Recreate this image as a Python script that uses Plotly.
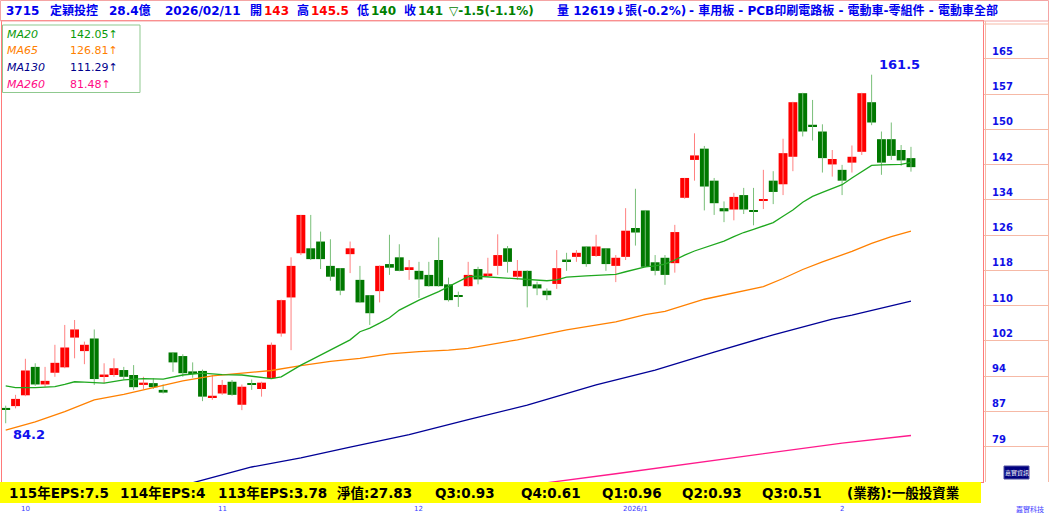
import plotly.graph_objects as go
import pandas as pd

# ---------------- data ----------------
holidays = ["2025-09-29", "2025-10-06", "2025-10-10", "2025-10-24", "2025-12-25", "2026-01-01"]
dates = [d for d in pd.bdate_range("2025-09-26", "2026-02-11") if d.strftime("%Y-%m-%d") not in holidays]

opens = [87.5, 88.0, 90.4, 96.7, 92.8, 95.4, 96.6, 103.2, 100.2, 103.0,
         94.7, 94.9, 96.0, 94.9, 92.7, 93.1, 91.6, 99.9, 99.1, 95.6,
         95.8, 90.0, 90.8, 93.4, 88.3, 93.0, 91.8, 94.2, 104.1, 112.1,
         121.9, 123.0, 124.5, 119.1, 118.6, 121.7, 116.0, 112.6, 113.5, 119.5,
         121.0, 118.5, 118.0, 117.1, 120.4, 115.0, 112.5, 114.6, 118.4, 117.1,
         119.1, 123.0, 116.7, 118.0, 115.0, 113.6, 115.1, 120.4, 121.1, 123.4,
         121.3, 123.0, 119.1, 121.1, 127.5, 131.4, 119.9, 120.9, 119.7, 134.2,
         142.6, 145.1, 138.0, 131.9, 131.6, 134.8, 131.4, 133.6, 138.0, 137.2,
         143.3, 157.4, 150.3, 148.9, 141.6, 140.4, 142.0, 144.4, 155.4, 147.2,
         147.2, 144.8, 143.0]
highs = [88.1, 90.5, 98.5, 97.5, 96.7, 101.6, 106.0, 107.1, 102.3, 105.0,
         97.5, 98.6, 96.7, 97.1, 94.5, 94.2, 92.8, 99.9, 99.5, 97.7,
         96.1, 94.9, 93.8, 93.8, 92.8, 93.9, 93.4, 102.1, 111.6, 121.0,
         130.4, 130.4, 126.7, 125.0, 118.6, 124.5, 119.1, 112.6, 119.2, 126.0,
         123.9, 120.4, 120.0, 120.0, 125.4, 116.5, 113.4, 120.0, 118.9, 120.9,
         126.1, 123.5, 120.4, 118.1, 115.6, 114.1, 122.6, 122.0, 122.6, 123.4,
         126.0, 123.0, 121.5, 131.9, 136.2, 131.5, 121.5, 121.5, 128.2, 138.6,
         148.5, 145.7, 138.6, 133.4, 135.3, 136.4, 136.4, 140.4, 140.1, 147.3,
         155.5, 157.5, 155.9, 150.5, 144.8, 141.5, 145.8, 157.5, 161.5, 148.9,
         150.9, 145.9, 145.5]
lows = [84.2, 87.5, 90.2, 92.5, 92.3, 94.5, 96.4, 98.6, 97.3, 92.7,
        93.1, 94.5, 93.9, 91.6, 91.8, 91.8, 90.8, 95.6, 94.5, 94.3,
        89.1, 89.4, 90.5, 90.3, 87.1, 91.6, 90.1, 94.0, 103.4, 100.4,
        121.5, 120.4, 118.4, 115.8, 112.6, 117.5, 110.9, 106.0, 111.0, 117.1,
        117.9, 116.0, 112.0, 114.5, 114.5, 111.2, 110.0, 114.5, 115.0, 116.6,
        117.1, 117.6, 116.0, 109.9, 112.6, 111.5, 114.0, 118.0, 120.0, 118.9,
        121.1, 118.0, 115.5, 120.4, 123.6, 118.8, 117.0, 114.9, 117.6, 134.0,
        138.0, 131.4, 130.4, 128.8, 129.2, 130.6, 128.1, 131.7, 132.8, 134.8,
        140.1, 147.8, 146.9, 139.8, 138.9, 134.8, 139.8, 143.7, 150.3, 139.3,
        142.6, 141.3, 140.0]
closes = [87.3, 89.6, 95.9, 92.8, 93.6, 97.6, 101.0, 105.0, 101.6, 94.0,
          94.9, 96.4, 94.5, 92.2, 93.2, 92.2, 91.0, 97.7, 95.3, 95.4,
          90.1, 90.2, 92.7, 90.5, 92.3, 92.8, 93.2, 101.6, 111.5, 119.1,
          130.4, 120.6, 120.6, 116.7, 113.6, 123.0, 111.0, 108.6, 119.1, 118.7,
          118.0, 118.7, 116.1, 114.6, 114.6, 111.5, 112.3, 117.1, 116.1, 117.3,
          121.5, 120.0, 118.0, 114.6, 114.1, 112.6, 118.6, 120.2, 122.0, 119.5,
          123.4, 119.5, 120.9, 126.9, 126.5, 118.9, 118.0, 117.1, 126.6, 138.6,
          143.6, 136.7, 133.0, 131.2, 134.4, 131.6, 131.2, 133.8, 135.5, 144.1,
          155.4, 148.9, 150.1, 143.0, 142.8, 138.0, 143.3, 157.4, 150.9, 142.0,
          143.5, 142.5, 141.0]

ma20_idx = [0, 1, 3, 5, 6, 7, 8, 10, 12, 14, 16, 18, 20, 22, 24, 26, 27, 28, 29, 30,
            31, 33, 35, 36, 37, 38, 39, 40, 42, 44, 46, 47, 48, 50, 52, 53, 55, 56, 57, 59,
            61, 62, 63, 64, 65, 66, 67, 68, 69, 70, 71, 72, 73, 74, 75, 76, 77, 78, 79, 80,
            81, 82, 83, 84, 85, 86, 87, 88, 89, 90, 91, 92]
ma20_val = [92.5, 92.1, 92.1, 92.3, 92.8, 93.4, 93.3, 93.1, 93.8, 94.1, 94.0, 94.9, 95.3, 95.0, 94.9, 94.3, 94.1, 94.5, 95.8, 97.1,
            98.2, 100.4, 102.7, 104.5, 105.3, 106.4, 107.6, 109.3, 111.5, 113.4, 115.5, 116.7, 116.8, 116.5, 116.2, 116.0, 115.8, 116.0, 116.6, 116.9,
            117.1, 117.2, 117.8, 118.3, 118.9, 119.1, 119.5, 120.4, 121.5, 122.4, 123.1, 123.9, 124.6, 125.6, 126.5, 127.2, 128.0, 128.7, 130.1, 131.5,
            133.2, 134.5, 135.4, 136.2, 137.1, 138.6, 140.1, 141.4, 141.5, 141.6, 141.6, 142.05]

ma65_idx = [0, 3, 6, 9, 12, 15, 18, 21, 24, 27, 30, 33, 36, 39, 42, 45, 47, 52, 57, 62,
            65, 67, 71, 73, 77, 79, 81, 83, 86, 88, 90, 92]
ma65_val = [82.7, 84.5, 86.8, 89.4, 90.6, 92.1, 93.6, 94.7, 95.3, 95.9, 97.0, 97.9, 98.6, 99.6, 100.1, 100.4, 100.8, 102.7, 104.9, 106.7,
            108.3, 109.0, 111.7, 112.6, 114.5, 116.3, 118.3, 120.0, 122.3, 124.1, 125.6, 126.81]

ma130_idx = [15, 19, 25, 30, 35, 41, 47, 53, 60, 66, 72, 78, 84, 86, 92]
ma130_val = [69.6, 71.0, 74.5, 76.5, 78.9, 81.7, 85.0, 88.2, 92.7, 96.0, 100.0, 103.8, 107.3, 108.2, 111.29]

ma260_idx = [50, 55, 62, 70, 78, 85, 92]
ma260_val = [69.8, 71.0, 73.0, 75.4, 77.8, 79.8, 81.48]

y_tick_labels = ["79", "87", "94", "102", "110", "118", "126", "134", "142", "150", "157", "165"]

legend_rows = [("MA20", "142.05↑", "#0a9a0a"), ("MA65", "126.81↑", "#ff8000"),
               ("MA130", "111.29↑", "#00008c"), ("MA260", "81.48↑", "#ff0a84")]

eps_items = ["115年EPS:7.5", "114年EPS:4", "113年EPS:3.78", "淨值:27.83", "Q3:0.93",
             "Q4:0.61", "Q1:0.96", "Q2:0.93", "Q3:0.51", "(業務):一般投資業"]

header_items = [("3715", "b"), ("定穎投控", "b"), ("28.4億", "b"), ("2026/02/11", "b"),
                ("開", "b"), ("143", "r"), ("高", "b"), ("145.5", "r"), ("低", "b"), ("140", "g"),
                ("收", "b"), ("141", "g"), ("▽-1.5(-1.1%)", "g"), ("量 12619↓張(-0.2%)", "b"),
                ("- 車用板 - PCB印刷電路板 - 電動車-零組件 - 電動車全部", "b")]

# ---------------- layout geometry ----------------
W, H = 1049, 513
L, R, T, B = 2, 66, 21, 31
PW, PH = W - L - R, H - T - B
Y_MIN, Y_MAX = 71.17, 173.41
X_MIN, X_MAX = -0.376, 99.32


def px2x(px):
    return (px - L) / PW


def py2y(py):
    return (H - B - py) / PH


n = len(opens)
idx = list(range(n))
UP, DOWN = "#ff0000", "#007800"
UP_W, DOWN_W = "#ff8080", "#79bf79"

fig = go.Figure()

# wicks
for up_flag, col in ((True, UP_W), (False, DOWN_W)):
    xs, ys = [], []
    for i in idx:
        if (closes[i] >= opens[i]) == up_flag:
            xs += [i, i, None]
            ys += [lows[i], highs[i], None]
    fig.add_trace(go.Scatter(x=xs, y=ys, mode="lines", line=dict(color=col, width=1),
                             hoverinfo="skip", showlegend=False))

# moving averages
for xs, ys, col in ((ma260_idx, ma260_val, "#ff1a8c"), (ma130_idx, ma130_val, "#000096"),
                    (ma65_idx, ma65_val, "#ff8000"), (ma20_idx, ma20_val, "#1fa81f")):
    fig.add_trace(go.Scatter(x=xs, y=ys, mode="lines", line=dict(color=col, width=1.3),
                             hoverinfo="skip", showlegend=False))

# bodies
bases, heights, cols = [], [], []
for i in idx:
    lo, hi = min(opens[i], closes[i]), max(opens[i], closes[i])
    h = hi - lo
    if h < 0.4:
        mid = (hi + lo) / 2
        lo, h = mid - 0.2, 0.4
    bases.append(lo)
    heights.append(h)
    cols.append(UP if closes[i] >= opens[i] else DOWN)
fig.add_trace(go.Bar(x=idx, y=heights, base=bases, width=0.9,
                     marker=dict(color=cols, line=dict(width=0)),
                     customdata=[d.strftime("%Y/%m/%d") for d in dates],
                     hovertemplate="%{customdata}<extra></extra>", showlegend=False))

# small tick marks under the yellow bar
tick_y = Y_MIN - (505 - (H - B)) / PH * (Y_MAX - Y_MIN)
fig.add_trace(go.Scatter(x=idx, y=[tick_y] * n, mode="markers", cliponaxis=False,
                         marker=dict(symbol="line-ns", size=3, line=dict(color="#7f7fff", width=1)),
                         hoverinfo="skip", showlegend=False))

step = (float(y_tick_labels[-1]) - float(y_tick_labels[0])) / (len(y_tick_labels) - 1)
tickvals = [float(y_tick_labels[0]) + k * step for k in range(len(y_tick_labels))]

fig.update_layout(
    width=W, height=H, margin=dict(l=L, r=R, t=T, b=B),
    plot_bgcolor="white", paper_bgcolor="white", showlegend=False,
    xaxis=dict(range=[X_MIN, X_MAX], showgrid=False, zeroline=False, showticklabels=False,
               showline=True, mirror=True, linecolor="#ff7a7a", linewidth=1, fixedrange=True),
    yaxis=dict(range=[Y_MIN, Y_MAX], side="right", showgrid=False, zeroline=False,
               showticklabels=False, tickvals=tickvals, ticks="outside", ticklen=64,
               tickcolor="#f6b9a6", tickwidth=1,
               showline=True, mirror=True, linecolor="#ff7a7a", linewidth=1, fixedrange=True),
    font=dict(family="DejaVu Sans, Noto Sans CJK TC"),
)

shapes = []
# header frame
shapes.append(dict(type="rect", xref="paper", yref="paper", x0=px2x(0.5), x1=px2x(1048.5),
                   y0=py2y(0.5), y1=py2y(21), line=dict(color="#f4a4a4", width=1)))
# right column frame
shapes.append(dict(type="line", xref="paper", yref="paper", x0=px2x(985.5), x1=px2x(985.5),
                   y0=py2y(21), y1=py2y(482), line=dict(color="#f6b9a6", width=1)))
shapes.append(dict(type="line", xref="paper", yref="paper", x0=px2x(1048.5), x1=px2x(1048.5),
                   y0=py2y(21), y1=py2y(482), line=dict(color="#f6b9a6", width=1)))
shapes.append(dict(type="line", xref="paper", yref="paper", x0=px2x(983), x1=px2x(1049),
                   y0=py2y(24), y1=py2y(24), line=dict(color="#f6b9a6", width=1)))
# yellow info bar
shapes.append(dict(type="rect", xref="paper", yref="paper", x0=px2x(0), x1=px2x(981),
                   y0=py2y(482), y1=py2y(503), fillcolor="#ffff00", line=dict(width=0)))
# legend box
shapes.append(dict(type="rect", xref="paper", yref="paper", x0=px2x(2.5), x1=px2x(140),
                   y0=py2y(25), y1=py2y(92.5), fillcolor="white", line=dict(color="#8fc98f", width=1)))
# logo
shapes.append(dict(type="rect", xref="paper", yref="paper", x0=px2x(1004), x1=px2x(1029),
                   y0=py2y(466), y1=py2y(479), fillcolor="#000080", line=dict(color="#5050a0", width=1)))
fig.update_layout(shapes=shapes)

ann = []
# header
hcol = {"b": "#0000ee", "r": "#ff0000", "g": "#008000"}
hx = [4, 48, 107, 163, 248, 262, 295, 309, 355, 369, 402, 416, 447, 555, 687]
for (txt, c), x in zip(header_items, hx):
    ann.append(dict(xref="paper", yref="paper", x=px2x(x), y=py2y(11), text=txt, showarrow=False,
                    xanchor="left", yanchor="middle",
                    font=dict(size=12, color=hcol[c], family="DejaVu Sans, Noto Sans CJK TC", weight="bold")))
# legend
for k, (name, val, col) in enumerate(legend_rows):
    yy = py2y(34.5 + k * 16.5)
    ann.append(dict(xref="paper", yref="paper", x=px2x(5), y=yy, text="<i>" + name + "</i>", showarrow=False,
                    xanchor="left", yanchor="middle", font=dict(size=11, color=col)))
    ann.append(dict(xref="paper", yref="paper", x=px2x(68), y=yy, text=val, showarrow=False,
                    xanchor="left", yanchor="middle", font=dict(size=11, color=col)))
# right axis labels
for tv, tt in zip(tickvals, y_tick_labels):
    ann.append(dict(xref="paper", yref="y", x=px2x(990), y=tv, text=tt, showarrow=False,
                    xanchor="left", yanchor="bottom", yshift=0,
                    font=dict(size=10, color="#1010e6", weight="bold")))
# high / low labels
hi_i = max(idx, key=lambda i: highs[i])
lo_i = min(idx, key=lambda i: lows[i])
ann.append(dict(x=hi_i, y=highs[hi_i], text=f"{highs[hi_i]:.1f}", showarrow=False, xanchor="left",
                yanchor="bottom", xshift=5, yshift=1, font=dict(size=13, color="#1010ee", weight="bold")))
ann.append(dict(x=lo_i, y=lows[lo_i], text=f"{lows[lo_i]:.1f}", showarrow=False, xanchor="left",
                yanchor="top", xshift=5, yshift=-2, font=dict(size=13, color="#1010ee", weight="bold")))
# yellow bar text
ex = [7, 118, 216, 335, 433, 519, 600, 680, 760, 845]
for txt, x in zip(eps_items, ex):
    ann.append(dict(xref="paper", yref="paper", x=px2x(x), y=py2y(493), text=txt, showarrow=False,
                    xanchor="left", yanchor="middle",
                    font=dict(size=13.5, color="black", family="DejaVu Sans, Noto Sans CJK TC", weight="bold")))
# month labels
for i in idx:
    if i > 0 and dates[i].month != dates[i - 1].month:
        lab = f"{dates[i].year}/{dates[i].month}" if dates[i].month == 1 else str(dates[i].month)
        ann.append(dict(x=i, yref="paper", y=py2y(509), text=lab, showarrow=False,
                        xanchor="center", yanchor="middle", font=dict(size=7, color="#3c3cff")))
ann.append(dict(xref="paper", yref="paper", x=px2x(1030), y=py2y(509), text="嘉實科技", showarrow=False,
                xanchor="center", yanchor="middle", font=dict(size=7, color="#3c3cff")))
ann.append(dict(xref="paper", yref="paper", x=px2x(1016.5), y=py2y(472.5), text="嘉實資訊", showarrow=False,
                xanchor="center", yanchor="middle", font=dict(size=6, color="white")))
fig.update_layout(annotations=ann)

fig.write_html("out.html", config={"displayModeBar": False},
               post_script="document.body.style.margin='0';document.body.style.padding='0';"
                           "document.body.style.overflow='hidden';")
